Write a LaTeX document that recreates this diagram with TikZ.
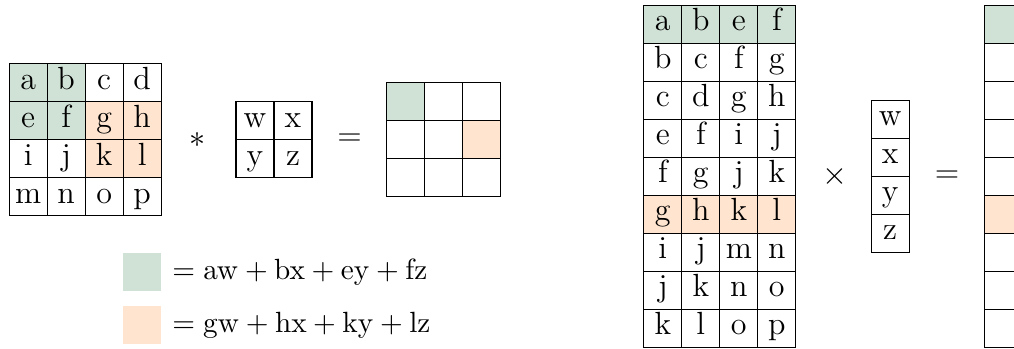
\documentclass[11pt,tikz,border=0pt]{standalone}
\usepackage{amsmath}
\usepackage{tikz}
\definecolor{selgreen}{RGB}{208,226,214}
\definecolor{selorange}{RGB}{255,228,207}

\begin{document}
\begin{tikzpicture}[
    x=1mm, y=1mm,
    cell/.style={draw, minimum size=5mm, inner sep=0pt, font=\large,
                 text height=1.5ex, text depth=0.5ex},
    op/.style={inner sep=0pt, font=\large},
    key/.style={minimum size=5mm, inner sep=0pt},
    eqn/.style={anchor=west, inner sep=0pt}]

  \useasboundingbox (0,0) rectangle (133.4,-45.9);

  % convolution: input, kernel, output
  \foreach \row [count=\r from 0] in {{a,b,c,d},{e,f,g,h},{i,j,k,l},{m,n,o,p}}
    \foreach \v [count=\c from 0] in \row {
      \def\cf{white}
      \ifnum\r<2 \ifnum\c<2 \def\cf{selgreen}\fi\fi
      \ifnum\r>0 \ifnum\r<3 \ifnum\c>1 \def\cf{selorange}\fi\fi\fi
      \node[cell, fill=\cf] (in-\r-\c) at (3.7+5*\c, -10.9-5*\r) {\v};
    }
  \node[op] (star) at (26,-18.4) {$*$};
  \foreach \row [count=\r from 0] in {{w,x},{y,z}}
    \foreach \v [count=\c from 0] in \row
      \node[cell] (k-\r-\c) at (33.55+5*\c, -15.9-5*\r) {\v};
  \node[op] (eq1) at (46,-18.4) {$=$};
  \foreach \r in {0,1,2}
    \foreach \c in {0,1,2} {
      \def\cf{white}
      \ifnum\r=0 \ifnum\c=0 \def\cf{selgreen}\fi\fi
      \ifnum\r=1 \ifnum\c=2 \def\cf{selorange}\fi\fi
      \node[cell, fill=\cf] (out-\r-\c) at (53.4+5*\c, -13.4-5*\r) {};
    }

  % legend
  \node[key, fill=selgreen] (keyg) at (18.7,-35.8) {};
  \node[eqn] (eqg) at (22.6,-35.8) {$=\mathrm{aw}+\mathrm{bx}+\mathrm{ey}+\mathrm{fz}$};
  \node[key, fill=selorange] (keyo) at (18.7,-42.8) {};
  \node[eqn] (eqo) at (22.6,-42.8) {$=\mathrm{gw}+\mathrm{hx}+\mathrm{ky}+\mathrm{lz}$};

  % same thing as a matrix product
  \foreach \row [count=\r from 0] in {{a,b,e,f},{b,c,f,g},{c,d,g,h},{e,f,i,j},{f,g,j,k},
                                      {g,h,k,l},{i,j,m,n},{j,k,n,o},{k,l,o,p}}
    \foreach \v [count=\c from 0] in \row {
      \def\cf{white}
      \ifnum\r=0 \def\cf{selgreen}\fi
      \ifnum\r=5 \def\cf{selorange}\fi
      \node[cell, fill=\cf] (im-\r-\c) at (87.2+5*\c, -3.2-5*\r) {\v};
    }
  \node[op] (times) at (109.9,-23.2) {$\times$};
  \foreach \v [count=\r from 0] in {w,x,y,z}
    \node[cell] (kv-\r) at (117.1, -15.7-5*\r) {\v};
  \node[op] (eq2) at (124.6,-23.2) {$=$};
  \foreach \r in {0,...,8} {
    \def\cf{white}
    \ifnum\r=0 \def\cf{selgreen}\fi
    \ifnum\r=5 \def\cf{selorange}\fi
    \node[cell, fill=\cf] (ov-\r) at (132, -3.2-5*\r) {};
  }
\end{tikzpicture}
\end{document}
